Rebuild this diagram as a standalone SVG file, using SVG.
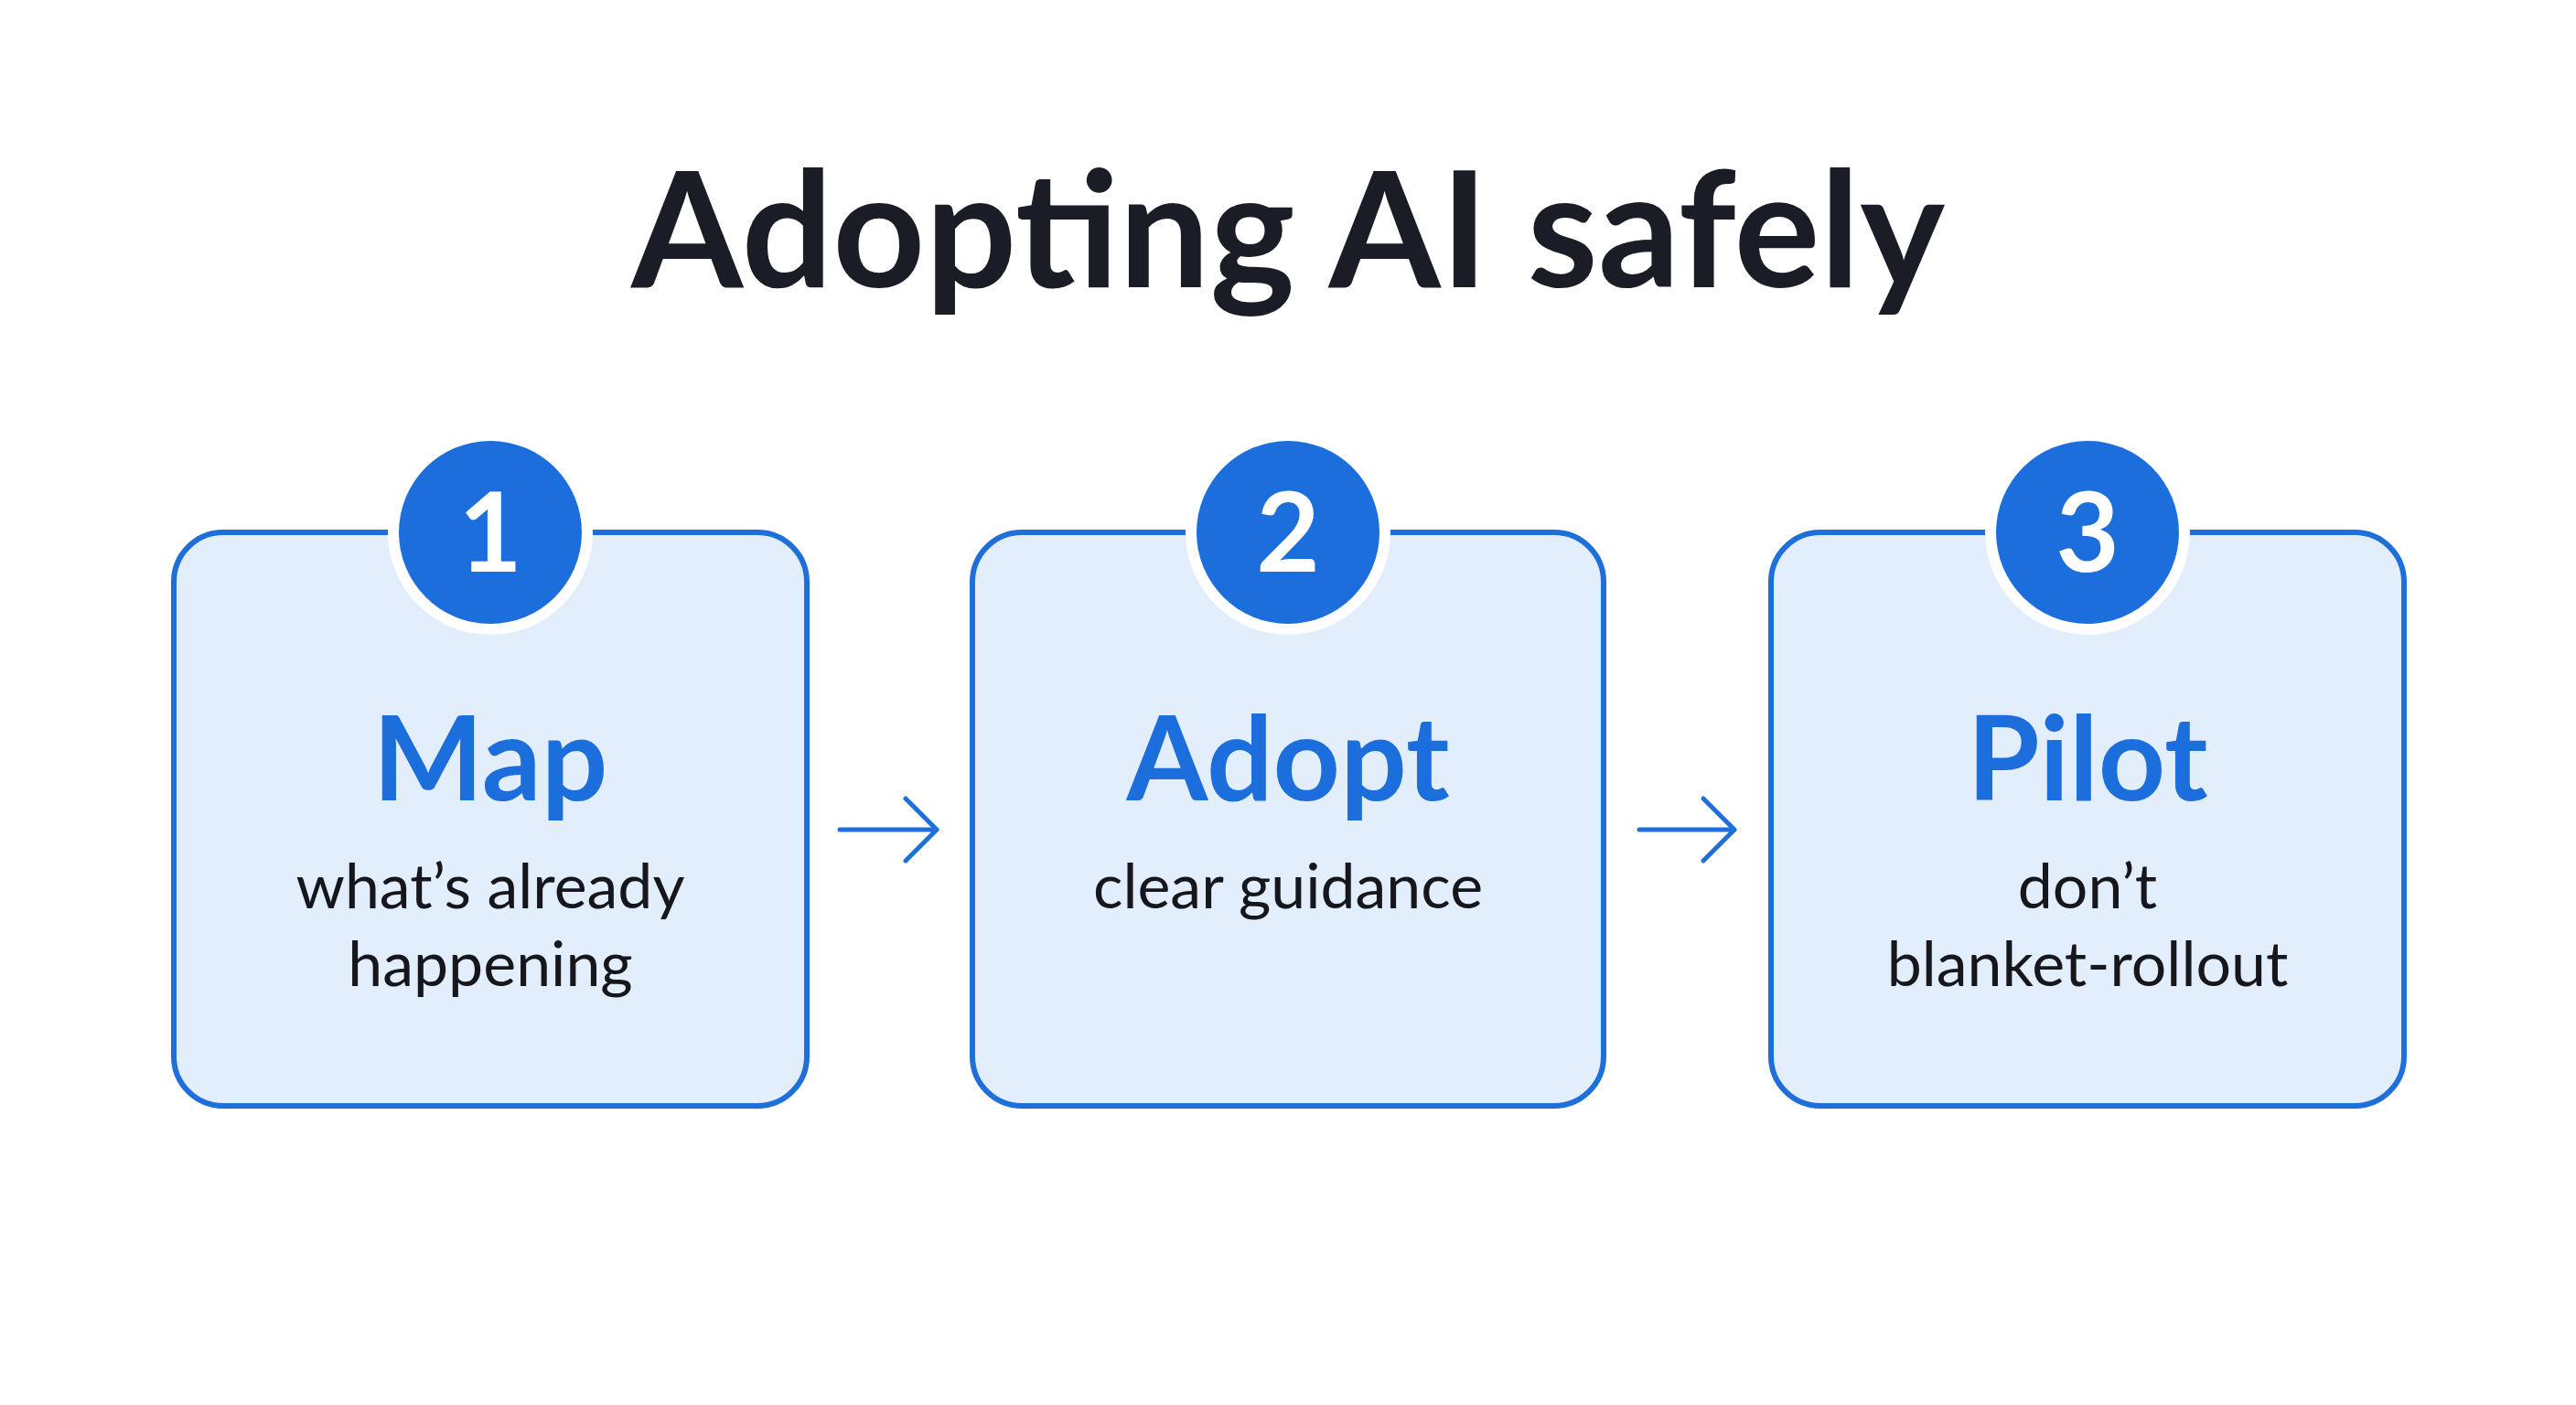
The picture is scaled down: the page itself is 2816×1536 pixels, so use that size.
<svg xmlns="http://www.w3.org/2000/svg" width="2816" height="1536" viewBox="0 0 2816 1536">
<style>
.box{fill:#E2EEFC;stroke:#1F6FDB;stroke-width:6}
.ring{fill:#FFFFFF}
.num{fill:#1C6EDC}
.numt{font-family:"Lato","Liberation Sans",sans-serif;font-weight:700;font-size:120px;fill:#fff;text-anchor:middle}
.head{font-family:"Lato","Liberation Sans",sans-serif;font-weight:700;font-size:128px;fill:#1C6EDC;text-anchor:middle}
.sub{font-family:"Lato","Liberation Sans",sans-serif;font-size:68px;fill:#15171c;text-anchor:middle}
.conn{fill:none;stroke:#1F6FDB;stroke-width:5;stroke-linecap:round;stroke-linejoin:round}
</style>
<rect width="2816" height="1536" fill="#fff"/>
<text x="1408" y="314" font-family="Lato, 'Liberation Sans', sans-serif" font-weight="700" font-size="176" fill="#1a1d26" text-anchor="middle">Adopting AI safely</text>
<g id="node1">
<rect class="box" x="190" y="582" width="692" height="627" rx="54"/>
<circle class="ring" cx="536" cy="582" r="112"/>
<circle class="num" cx="536" cy="582" r="100"/>
<text class="numt" x="536" y="625">1</text>
<text class="head" x="536" y="875">Map</text>
<text class="sub" x="536" y="993">what’s already</text>
<text class="sub" x="536" y="1078">happening</text>
</g>
<g id="node2">
<rect class="box" x="1063" y="582" width="690" height="627" rx="54"/>
<circle class="ring" cx="1408" cy="582" r="112"/>
<circle class="num" cx="1408" cy="582" r="100"/>
<text class="numt" x="1408" y="625">2</text>
<text class="head" x="1408" y="875">Adopt</text>
<text class="sub" x="1408" y="993">clear guidance</text>
</g>
<g id="node3">
<rect class="box" x="1936" y="582" width="692" height="627" rx="54"/>
<circle class="ring" cx="2282" cy="582" r="112"/>
<circle class="num" cx="2282" cy="582" r="100"/>
<text class="numt" x="2282" y="625">3</text>
<text class="head" x="2282" y="875">Pilot</text>
<text class="sub" x="2282" y="993">don’t</text>
<text class="sub" x="2282" y="1078">blanket-rollout</text>
</g>
<g id="connectors">
<path class="conn" d="M918 907H1024M990 873L1024 907L990 941"/>
<path class="conn" d="M1792 907H1896M1862 873L1896 907L1862 941"/>
</g>
</svg>
